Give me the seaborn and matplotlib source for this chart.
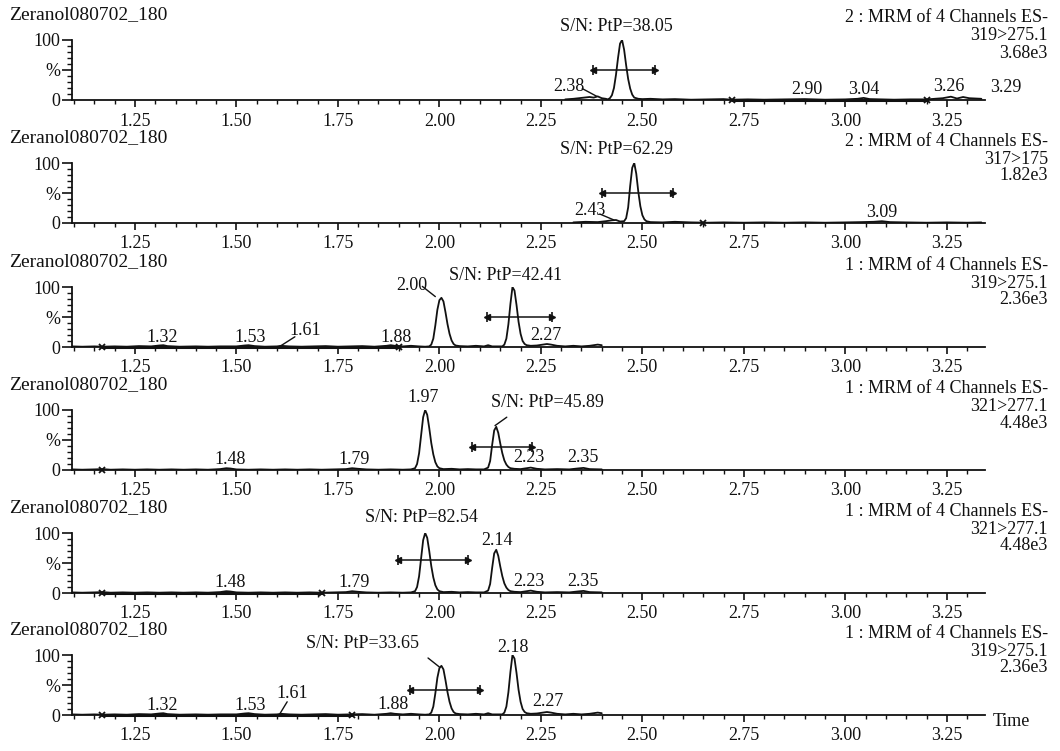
import matplotlib
matplotlib.use("Agg")
import matplotlib.pyplot as plt
from matplotlib.ticker import FixedLocator, MultipleLocator
import pandas as pd
import seaborn as sns

# ---- chromatogram traces: (retention time [min], relative intensity [%]) ----
trace_319_f2 = [
    (2.31, 1), (2.33, 2), (2.35, 3.5), (2.37, 5), (2.38, 4), (2.39, 6), (2.40, 3),
    (2.41, 2), (2.415, 1), (2.420, 3), (2.425, 8), (2.430, 20), (2.435, 42),
    (2.440, 70), (2.445, 94), (2.450, 100), (2.455, 84), (2.460, 58), (2.465, 35),
    (2.470, 19), (2.475, 9), (2.480, 4), (2.490, 2), (2.50, 1.5), (2.52, 2),
    (2.55, 1), (2.58, 1.5), (2.62, 0.5), (2.66, 1), (2.70, 1.5), (2.72, 0.5),
    (2.76, 1), (2.80, 0.5), (2.85, 1), (2.90, 1.5), (2.95, 0.5), (3.00, 1),
    (3.03, 2), (3.045, 3.5), (3.06, 1.5), (3.09, 1), (3.12, 0.5), (3.16, 1),
    (3.20, 1), (3.22, 2), (3.24, 3), (3.26, 5.5), (3.275, 2.5), (3.29, 5),
    (3.305, 3), (3.32, 2.5), (3.335, 2),
]
trace_317_f2 = [
    (2.33, 1), (2.36, 2), (2.39, 1.5), (2.41, 3), (2.425, 4.5), (2.435, 5),
    (2.445, 2.5), (2.455, 3), (2.460, 8), (2.465, 26), (2.470, 62), (2.475, 92),
    (2.480, 100), (2.485, 82), (2.490, 52), (2.495, 28), (2.500, 13), (2.505, 6),
    (2.510, 3), (2.52, 1.5), (2.55, 1), (2.58, 2), (2.62, 1), (2.66, 0.5),
    (2.70, 1), (2.75, 0.5), (2.80, 1), (2.85, 0.5), (2.90, 1), (2.95, 0.5),
    (3.00, 1), (3.04, 1.5), (3.07, 2), (3.09, 3), (3.11, 1.5), (3.15, 1),
    (3.20, 0.5), (3.25, 1), (3.30, 0.5), (3.335, 1),
]
trace_319_f1 = [
    (1.095, 1), (1.12, 0.5), (1.15, 1), (1.17, 0.5), (1.20, 1), (1.23, 0.5),
    (1.26, 1.5), (1.29, 1), (1.31, 2.5), (1.32, 3), (1.33, 1.5), (1.36, 0.5),
    (1.40, 1), (1.43, 0.5), (1.46, 1), (1.50, 1), (1.52, 2.5), (1.53, 3),
    (1.545, 1.5), (1.57, 0.5), (1.60, 1), (1.61, 2), (1.63, 1), (1.66, 0.5),
    (1.69, 1), (1.72, 1.5), (1.75, 0.5), (1.78, 1), (1.81, 1.5), (1.84, 0.5),
    (1.87, 2), (1.88, 3), (1.89, 2), (1.91, 1), (1.93, 2), (1.95, 1),
    (1.965, 0.5), (1.975, 1), (1.980, 4), (1.985, 14), (1.990, 36), (1.995, 62),
    (2.000, 78), (2.005, 82), (2.010, 76), (2.015, 58), (2.020, 38), (2.025, 22),
    (2.030, 11), (2.035, 5), (2.040, 2.5), (2.050, 1.5), (2.07, 1), (2.09, 2),
    (2.11, 1), (2.12, 3), (2.13, 1), (2.145, 1), (2.155, 1), (2.160, 4),
    (2.165, 14), (2.170, 38), (2.175, 72), (2.180, 100), (2.185, 94), (2.190, 70),
    (2.195, 42), (2.200, 22), (2.205, 10), (2.210, 5), (2.215, 3), (2.225, 2),
    (2.24, 2.5), (2.255, 4), (2.265, 5), (2.275, 4), (2.29, 2), (2.31, 1),
    (2.33, 2), (2.35, 1), (2.37, 2), (2.39, 4), (2.40, 3),
]
trace_321_f1 = [
    (1.095, 1), (1.12, 0.5), (1.15, 1), (1.17, 1.5), (1.19, 0.5), (1.22, 1),
    (1.25, 0.5), (1.28, 1), (1.31, 0.5), (1.34, 1), (1.37, 0.5), (1.40, 1),
    (1.43, 0.5), (1.46, 1.5), (1.475, 3), (1.485, 2.5), (1.50, 1), (1.53, 0.5),
    (1.56, 1), (1.59, 0.5), (1.62, 1), (1.65, 0.5), (1.68, 1), (1.71, 0.5),
    (1.74, 1), (1.77, 1.5), (1.785, 3), (1.80, 2), (1.82, 1), (1.85, 0.5),
    (1.88, 1), (1.91, 0.5), (1.93, 1), (1.940, 3), (1.945, 10), (1.950, 28),
    (1.955, 58), (1.960, 88), (1.965, 100), (1.970, 92), (1.975, 70), (1.980, 45),
    (1.985, 26), (1.990, 13), (1.995, 6), (2.000, 3), (2.010, 1.5), (2.03, 2),
    (2.05, 1), (2.07, 1.5), (2.09, 1), (2.11, 1), (2.120, 4), (2.125, 15),
    (2.130, 42), (2.135, 66), (2.140, 72), (2.145, 62), (2.150, 44), (2.155, 28),
    (2.160, 16), (2.165, 9), (2.170, 5), (2.175, 3), (2.185, 2), (2.20, 1.5),
    (2.215, 3), (2.225, 4), (2.24, 2), (2.26, 1), (2.29, 1.5), (2.32, 1),
    (2.34, 2.5), (2.355, 3.5), (2.37, 1.5), (2.40, 1),
]

# ---- per-panel acquisition info ----
sample_name = "Zeranol080702_180"
functions = ["2", "2", "1", "1", "1", "1"]
transitions = ["319>275.1", "317>175", "319>275.1", "321>277.1", "321>277.1", "319>275.1"]
scales = ["3.68e3", "1.82e3", "2.36e3", "4.48e3", "4.48e3", "2.36e3"]
signal_noise = ["38.05", "62.29", "42.41", "45.89", "82.54", "33.65"]
traces = [trace_319_f2, trace_317_f2, trace_319_f1, trace_321_f1, trace_321_f1, trace_319_f1]

x_ticks = [1.25, 1.50, 1.75, 2.00, 2.25, 2.50, 2.75, 3.00, 3.25]

# retention-time labels: (text, x, y, optional leader x0, y0, x1, y1)
rt_labels = [
    [("2.38", 2.320, 22, (2.352, 19, 2.388, 6)), ("2.90", 2.905, 18, None),
     ("3.04", 3.045, 18, None), ("3.26", 3.255, 22, None), ("3.29", 3.395, 20, None)],
    [("2.43", 2.370, 20, (2.395, 15, 2.430, 5)), ("3.09", 3.090, 18, None)],
    [("1.32", 1.316, 16, None), ("1.53", 1.533, 16, None),
     ("1.61", 1.669, 27, (1.644, 17, 1.607, 1)), ("1.88", 1.893, 16, None),
     ("2.00", 1.932, 102, (1.958, 101, 1.990, 84)), ("2.27", 2.262, 20, None)],
    [("1.48", 1.484, 18, None), ("1.79", 1.790, 18, None), ("1.97", 1.959, 120, None),
     ("2.23", 2.220, 20, None), ("2.35", 2.353, 20, None)],
    [("1.48", 1.484, 18, None), ("1.79", 1.790, 18, None), ("2.14", 2.142, 88, None),
     ("2.23", 2.220, 20, None), ("2.35", 2.353, 20, None)],
    [("1.32", 1.316, 16, None), ("1.53", 1.533, 16, None),
     ("1.61", 1.637, 35, (1.625, 22, 1.607, 2)), ("1.88", 1.885, 17, None),
     ("2.18", 2.181, 113, None), ("2.27", 2.267, 22, None)],
]
# S/N annotation: (x, y, optional leader) and noise-window arrow (x0, x1, y)
sn_pos = [(2.435, 122, None), (2.437, 122, None), (2.164, 120, None),
          (2.265, 112, (2.166, 88, 2.137, 74)), (1.957, 125, None),
          (1.810, 120, (1.972, 95, 2.000, 80))]
sn_arrows = [(2.378, 2.531, 50), (2.400, 2.575, 50), (2.117, 2.277, 50),
             (2.080, 2.228, 38), (1.898, 2.070, 55), (1.927, 2.100, 42)]
integration_marks = [[2.72, 3.20], [2.65], [1.17, 1.90], [1.17], [1.17, 1.71], [1.17, 1.785]]

# ---- styling ----
sns.set_theme(style="ticks")
plt.rcParams["font.family"] = ["Liberation Serif", "DejaVu Serif"]
INK = "#111111"
FS = 13
W, H = 1060, 751
baselines_px = [100, 223, 347, 470, 593, 715]
left_px, right_px, height_px = 72, 985, 60

fig = plt.figure(figsize=(W / 100, H / 100), dpi=100)
fig.patch.set_facecolor("white")

for k, yb in enumerate(baselines_px):
    ax = fig.add_axes([left_px / W, 1 - yb / H, (right_px - left_px) / W, height_px / H])
    ax.set_facecolor("white")
    df = pd.DataFrame(traces[k], columns=["time", "intensity"])
    sns.lineplot(data=df, x="time", y="intensity", ax=ax, color=INK, lw=1.3,
                 estimator=None, sort=False)

    # noise window and integration markers on the baseline
    marks = integration_marks[k]
    if len(marks) == 2:
        ax.plot(marks, [0.6, 0.6], color=INK, lw=2.2, clip_on=False)
    ax.plot(marks, [0.6] * len(marks), ls="none", marker="x", ms=4, mew=1.3,
            color=INK, clip_on=False)

    ax.set_xlim(1.095, 3.344)
    ax.set_ylim(0, 100)
    ax.set_xlabel("")
    ax.set_ylabel("")
    for side in ("top", "right"):
        ax.spines[side].set_visible(False)
    for side in ("left", "bottom"):
        ax.spines[side].set_color(INK)
        ax.spines[side].set_linewidth(1.3)

    ax.xaxis.set_major_locator(FixedLocator(x_ticks))
    ax.set_xticklabels([f"{v:.2f}" for v in x_ticks])
    ax.xaxis.set_minor_locator(MultipleLocator(0.05))
    ax.set_yticks([0, 50, 100])
    ax.set_yticklabels(["0", "%", "100"])
    ax.yaxis.set_minor_locator(MultipleLocator(10))
    ax.tick_params(axis="x", which="major", length=5, width=1.2, color=INK,
                   labelsize=FS, labelcolor=INK, pad=4, direction="out")
    ax.tick_params(axis="x", which="minor", length=3, width=1.0, color=INK, direction="out")
    ax.tick_params(axis="y", which="major", length=7, width=1.2, color=INK,
                   labelsize=FS, labelcolor=INK, pad=1.5, direction="out")
    ax.tick_params(axis="y", which="minor", length=3.5, width=1.0, color=INK, direction="out")

    # retention-time labels
    for text, lx, ly, leader in rt_labels[k]:
        ax.text(lx, ly, text, ha="center", va="center", fontsize=FS, color=INK, clip_on=False)
        if leader is not None:
            ax.plot([leader[0], leader[2]], [leader[1], leader[3]], color=INK, lw=1.0,
                    clip_on=False)

    # signal-to-noise annotation with its noise window
    sx, sy, sl = sn_pos[k]
    ax.text(sx, sy, f"S/N: PtP={signal_noise[k]}", ha="center", va="center",
            fontsize=FS, color=INK, clip_on=False)
    if sl is not None:
        ax.plot([sl[0], sl[2]], [sl[1], sl[3]], color=INK, lw=1.0, clip_on=False)
    a0, a1, ay = sn_arrows[k]
    ax.plot([a0, a1], [ay, ay], color=INK, lw=1.1, clip_on=False)
    ax.plot([a0], [ay], marker="<", ms=5, color=INK, clip_on=False)
    ax.plot([a1], [ay], marker=">", ms=5, color=INK, clip_on=False)
    ax.plot([a0, a1], [ay, ay], ls="none", marker="|", ms=7, mew=1.2, color=INK, clip_on=False)

    # header texts
    fig.text(9 / W, 1 - (yb - 85) / H, sample_name, ha="left", va="center",
             fontsize=14, color=INK)
    fig.text(1048 / W, 1 - (yb - 82) / H, f"{functions[k]} : MRM of 4 Channels ES-",
             ha="right", va="center", fontsize=FS, color=INK)
    fig.text(1048 / W, 1 - (yb - 64) / H, transitions[k], ha="right", va="center",
             fontsize=FS, color=INK)
    fig.text(1048 / W, 1 - (yb - 47) / H, scales[k], ha="right", va="center",
             fontsize=FS, color=INK)

fig.text(993 / W, 1 - 721 / H, "Time", ha="left", va="center", fontsize=FS, color=INK)

fig.savefig("out.png", dpi=100, facecolor="white")
